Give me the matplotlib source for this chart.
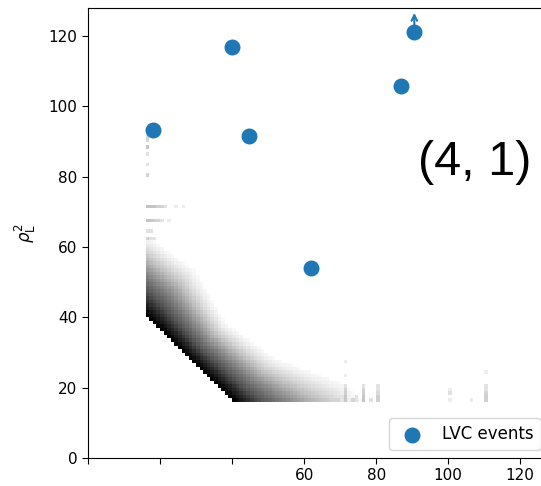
import numpy as np
import matplotlib
matplotlib.use("Agg")
import matplotlib.pyplot as plt
from matplotlib.colors import LogNorm

# LVC events (rho_H^2-ish on x, rho_L^2 on y)
event_x = [18.1, 40.0, 44.7, 61.9, 86.9, 90.6]
event_y = [93.3, 116.9, 91.6, 54.0, 105.8, 121.1]
# the last event lies above the plotted range, marked with an arrow
arrow_event = 5

# background population: counts fall off with distance from the x + y = 56 edge
edge_sum = 56
min_rho = 16
profile_counts = [1000, 557, 335, 201, 121, 73, 44, 26, 16, 9.5, 5.3, 3, 1.7, 1]
width_knots = [-50, -24, 0, 24, 50]
width_values = [17, 20, 15, 18, 27]

# isolated sparse bins (x, y, count)
stray_bins = [
    (16, 91, 5), (16, 90, 5), (16, 88, 8), (16, 86, 3), (16, 83, 3), (16, 80, 5),
    (16, 71, 9), (17, 71, 9), (18, 71, 8), (19, 71, 6), (20, 71, 5), (21, 71, 3),
    (24, 71, 2), (26, 71, 2),
    (16, 67, 9), (17, 67, 8), (18, 67, 6), (19, 67, 5), (20, 67, 3), (22, 67, 2),
    (16, 64, 3), (17, 64, 3), (16, 62, 5), (17, 62, 3), (18, 62, 3),
    (71, 16, 8), (71, 17, 8), (71, 18, 6), (71, 19, 5), (71, 20, 3), (71, 23, 2), (71, 27, 2),
    (68, 16, 5), (69, 16, 5), (70, 17, 3), (73, 16, 5), (74, 16, 3), (74, 17, 3),
    (76, 16, 8), (76, 17, 8), (76, 18, 6), (76, 19, 5), (76, 20, 3),
    (78, 16, 3), (80, 16, 6), (80, 17, 6), (80, 18, 4), (80, 19, 3), (80, 20, 3),
    (100, 16, 2), (100, 18, 3), (100, 19, 2), (106, 16, 2),
    (110, 16, 6), (110, 17, 6), (110, 18, 5), (110, 19, 3), (110, 20, 3), (110, 24, 2),
]

x_ticks = [0, 20, 40, 60, 80, 100, 120]
x_tick_labels = ["", "", "", "60", "80", "100", "120"]
y_ticks = [0, 20, 40, 60, 80, 100, 120]

xedges = np.arange(0, 129)
yedges = np.arange(0, 129)
counts = np.zeros((len(yedges) - 1, len(xedges) - 1))
prof_pos = np.linspace(0, 1.3, len(profile_counts))
for j, y in enumerate(yedges[:-1]):
    for i, x in enumerate(xedges[:-1]):
        if x < min_rho or y < min_rho:
            continue
        d = x + y - edge_sum
        if d < 0:
            continue
        w = np.interp(x - y, width_knots, width_values)
        r = d / w
        if r <= prof_pos[-1]:
            counts[j, i] = np.interp(r, prof_pos, profile_counts)
for x, y, c in stray_bins:
    counts[y, x] = max(counts[y, x], c)

fig = plt.figure(figsize=(5.41, 4.86), dpi=100)
# axes run past the right edge of the figure
ax = fig.add_axes([88 / 541, 28 / 486, 461 / 541, 450 / 486])

ax.pcolormesh(xedges, yedges, np.ma.masked_less_equal(counts, 0),
              cmap="Greys", norm=LogNorm(vmin=0.7, vmax=1000), rasterized=True)

ax.scatter(event_x, event_y, s=110, color="#1f77b4", zorder=3, label="LVC events")
ax.annotate("", xy=(event_x[arrow_event], 126.6),
            xytext=(event_x[arrow_event], event_y[arrow_event]),
            arrowprops=dict(arrowstyle="->", color="#1f77b4", lw=1.5,
                            shrinkA=0, shrinkB=0), zorder=3)

ax.text(91.5, 84, "(4, 1)", fontsize=35, family="Liberation Sans", ha="left", va="center")

ax.set_xlim(0, 128)
ax.set_ylim(0, 128)
ax.set_xticks(x_ticks)
ax.set_xticklabels(x_tick_labels)
ax.set_yticks(y_ticks)
ax.tick_params(labelsize=11, length=4)
ax.set_ylabel(r"$\rho_{\rm L}^2$", fontsize=12)
ax.yaxis.set_label_coords(-50 / 461, 0.5)

ax.legend(loc="lower right", fontsize=12)

fig.savefig("out.png", dpi=100)
